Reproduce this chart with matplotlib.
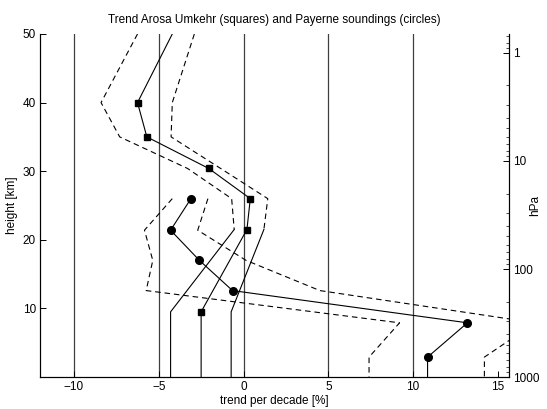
import matplotlib
matplotlib.use("Agg")
import matplotlib.pyplot as plt
from matplotlib.ticker import LogLocator, NullFormatter, FixedLocator

plt.rcParams['font.family'] = ['Liberation Sans', 'DejaVu Sans']

# Arosa Umkehr (squares): height [km], trend and bounds [%/decade]
umk_h = [50, 40, 35, 30.4, 26, 21.5, 9.5, 0]
umk_trend = [-4.2, -6.25, -5.7, -2.05, 0.4, 0.2, -2.5, -2.5]
umk_lo = [-6.25, -8.4, -7.3, -3.3, -0.7, -0.55, -4.3, -4.3]
umk_hi = [-2.9, -4.2, -4.27, -1.35, 1.43, 1.2, -0.73, -0.73]

# Payerne soundings (circles)
pay_h = [26, 21.4, 17, 12.6, 7.9, 2.9, 0]
pay_trend = [-3.1, -4.3, -2.6, -0.65, 13.2, 10.85, 10.85]
pay_lo = [-4.2, -5.84, -5.35, -5.74, 9.2, 7.4, 7.4]
pay_hi = [-2.1, -2.7, 0.15, 4.5, 17.2, 14.2, 14.2]

vlines = [-10, -5, 0, 5, 10]
xticks = [-10, -5, 0, 5, 10, 15]
yticks = [10, 20, 30, 40, 50]
p_ticks = [1, 10, 100, 1000]

fig = plt.figure(figsize=(5.47, 4.09), dpi=100)
ax = fig.add_axes([0.0731, 0.0782, 0.8574, 0.8387])

for v in vlines:
    ax.axvline(v, color='0.25', lw=0.9, zorder=1)

dash = (5, 3.5)
lw = 0.8
# Umkehr: dashed bounds down to 21.5 km, solid below
n = 6
ax.plot(umk_lo[:n], umk_h[:n], color='k', lw=lw, dashes=dash)
ax.plot(umk_hi[:n], umk_h[:n], color='k', lw=lw, dashes=dash)
ax.plot(umk_lo[n - 1:], umk_h[n - 1:], color='k', lw=lw)
ax.plot(umk_hi[n - 1:], umk_h[n - 1:], color='k', lw=lw)
ax.plot(umk_trend, umk_h, color='k', lw=lw, marker='s', ms=4.5,
        markevery=list(range(1, 7)))

ax.plot(pay_lo, pay_h, color='k', lw=lw, dashes=dash)
ax.plot(pay_hi, pay_h, color='k', lw=lw, dashes=dash)
ax.plot(pay_trend, pay_h, color='k', lw=lw, marker='o', ms=5.5,
        markevery=list(range(0, 6)))

ax.set_xlim(-12, 15.65)
ax.set_ylim(0, 50)
ax.set_xticks(xticks)
ax.set_xticklabels(['\u221210', '\u22125', '0', '5', '10', '15'])
ax.set_yticks(yticks)
ax.tick_params(direction='in', length=4, width=0.7, labelsize=8.5, pad=3)
ax.spines['top'].set_visible(False)
for s in ['left', 'bottom', 'right']:
    ax.spines[s].set_linewidth(0.8)
ax.set_xlabel('trend per decade [%]', fontsize=8.5, labelpad=1)
ax.set_ylabel('height [km]', fontsize=8.5, labelpad=3)
ax.set_title('Trend Arosa Umkehr (squares) and Payerne soundings (circles)',
             fontsize=8.5, pad=8)

ax2 = ax.twinx()
ax2.set_yscale('log')
ax2.set_ylim(1000, 0.667)
ax2.yaxis.set_major_locator(FixedLocator(p_ticks))
ax2.set_yticklabels([str(p) for p in p_ticks])
ax2.yaxis.set_minor_locator(LogLocator(base=10, subs=range(2, 10)))
ax2.yaxis.set_minor_formatter(NullFormatter())
ax2.tick_params(which='major', direction='in', length=4, width=0.7, labelsize=8.5, pad=3)
ax2.tick_params(which='minor', direction='in', length=2, width=0.5)
ax2.spines['top'].set_visible(False)
ax2.spines['right'].set_linewidth(0.8)
ax2.set_ylabel('hPa', fontsize=8.5)
ax2.yaxis.set_label_coords(1.042, 0.5)

fig.savefig('out.png', dpi=100)
